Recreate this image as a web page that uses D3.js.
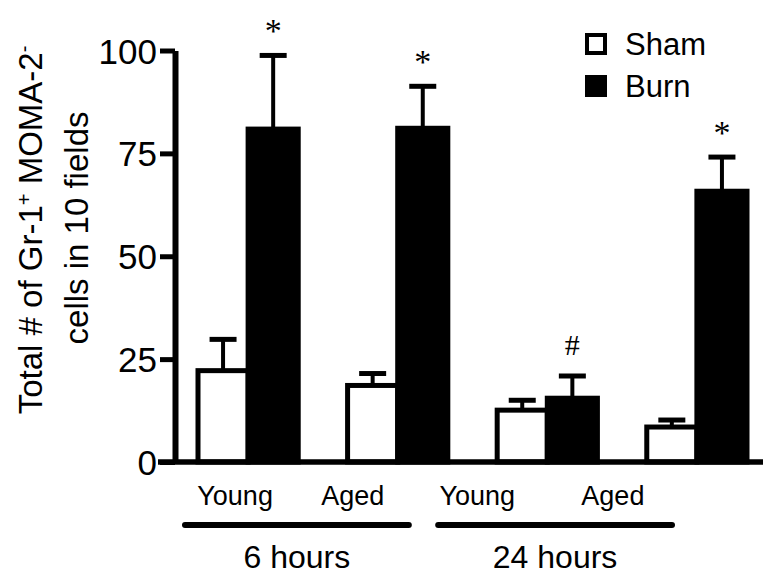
<!DOCTYPE html>
<html>
<head>
<meta charset="utf-8">
<script src="https://cdn.jsdelivr.net/npm/d3@7"></script>
<style>
  html, body { margin: 0; padding: 0; background: #fff; }
  svg { display: block; }
  text { font-family: "Liberation Sans", Arial, Helvetica, sans-serif; fill: #000; }
</style>
</head>
<body>
<div id="chart"></div>
<script>
// ---- data ----
const groups = ["6h Young", "6h Aged", "24h Young", "24h Aged"];
const groupAgeLabels = ["Young", "Aged", "Young", "Aged"];
const timeLabels = ["6 hours", "24 hours"];
const series = ["Sham", "Burn"];
const shamValues = [22.2, 18.6, 12.6, 8.5];
const shamErrors = [7.6, 2.9, 2.4, 1.7];
const burnValues = [80.9, 81.1, 15.5, 65.8];
const burnErrors = [17.9, 10.2, 5.4, 8.3];
const burnMarks = ["*", "*", "#", "*"];
const yTicks = [0, 25, 50, 75, 100];

// ---- layout ----
const W = 763, H = 578;
const svg = d3.select("#chart").append("svg").attr("width", W).attr("height", H);

const y = d3.scaleLinear().domain([0, 100]).range([462, 50.5]);
const x = d3.scaleBand().domain(groups).range([198, 747]).paddingInner(0.33).paddingOuter(0);
const xs = d3.scaleBand().domain(series).range([0, x.bandwidth()]).padding(0);

const rows = [];
groups.forEach((g, i) => {
  rows.push({group: g, series: "Sham", value: shamValues[i], err: shamErrors[i], mark: null});
  rows.push({group: g, series: "Burn", value: burnValues[i], err: burnErrors[i], mark: burnMarks[i]});
});

// bars
svg.append("g").selectAll("rect").data(rows).join("rect")
  .attr("x", d => x(d.group) + xs(d.series))
  .attr("y", d => y(d.value))
  .attr("width", xs.bandwidth())
  .attr("height", d => y(0) - y(d.value))
  .attr("fill", d => d.series === "Sham" ? "#fff" : "#000")
  .attr("stroke", "#000")
  .attr("stroke-width", 5);

// error bars
const eb = svg.append("g");
const cx = d => x(d.group) + xs(d.series) + xs.bandwidth() / 2;
eb.selectAll("line.v").data(rows).join("line").attr("class", "v")
  .attr("x1", cx).attr("x2", cx)
  .attr("y1", d => y(d.value)).attr("y2", d => y(d.value + d.err))
  .attr("stroke", "#000").attr("stroke-width", 4);
eb.selectAll("line.c").data(rows).join("line").attr("class", "c")
  .attr("x1", d => cx(d) - 13.5).attr("x2", d => cx(d) + 13.5)
  .attr("y1", d => y(d.value + d.err)).attr("y2", d => y(d.value + d.err))
  .attr("stroke", "#000").attr("stroke-width", 5);

// significance marks
svg.append("g").selectAll("text").data(rows.filter(d => d.mark)).join("text")
  .attr("x", cx)
  .attr("y", d => y(d.value + d.err) - (d.mark === "*" ? 13 : 21))
  .attr("text-anchor", "middle")
  .style("font-family", "'Liberation Serif', 'Times New Roman', serif")
  .style("font-size", d => d.mark === "*" ? "34px" : "30px")
  .text(d => d.mark);

// x axis line
svg.append("line").attr("x1", 158).attr("x2", W).attr("y1", y(0)).attr("y2", y(0))
  .attr("stroke", "#000").attr("stroke-width", 5.5);

// y axis
const yAxis = d3.axisLeft(y).tickValues(yTicks).tickSize(15).tickSizeOuter(0).tickPadding(3);
const ga = svg.append("g").attr("transform", "translate(175,0)").call(yAxis);
ga.select(".domain").attr("stroke", "#000").attr("stroke-width", 6);
ga.selectAll(".tick line").attr("stroke", "#000").attr("stroke-width", 5);
ga.selectAll(".tick text")
  .style("font-family", "'Liberation Sans', Arial, sans-serif")
  .style("font-size", "35px").attr("fill", "#000").attr("dy", "0.36em");

// x category labels
const labelOffsets = [-13, -45, -70, -84];
svg.append("g").selectAll("text").data(groups).join("text")
  .attr("x", (g, i) => x(g) + x.bandwidth() / 2 + labelOffsets[i])
  .attr("y", 505)
  .attr("text-anchor", "middle")
  .style("font-size", "27px")
  .text((g, i) => groupAgeLabels[i]);

// time group underlines and labels
const spans = [
  {label: timeLabels[0], from: groups[0], to: groups[1], l: -13, r: -39, tx: 292},
  {label: timeLabels[1], from: groups[2], to: groups[3], l: -59, r: -75, tx: 548}
];
spans.forEach(s => {
  const x1 = x(s.from) + s.l, x2 = x(s.to) + x.bandwidth() + s.r;
  svg.append("line").attr("x1", x1).attr("x2", x2).attr("y1", 525).attr("y2", 525)
    .attr("stroke", "#000").attr("stroke-width", 6).attr("stroke-linecap", "round");
  svg.append("text").attr("x", (x1 + x2) / 2).attr("y", 568)
    .attr("text-anchor", "middle").style("font-size", "32px").text(s.label);
});

// y title
const t1 = svg.append("text").attr("transform", "translate(42,230) rotate(-90)")
  .attr("text-anchor", "middle").style("font-size", "33px");
t1.append("tspan").text("Total # of Gr-1");
t1.append("tspan").attr("baseline-shift", "super").style("font-size", "20px").text("+");
t1.append("tspan").text(" MOMA-2");
t1.append("tspan").attr("baseline-shift", "super").style("font-size", "20px").text("-");
svg.append("text").attr("transform", "translate(88,228) rotate(-90)")
  .attr("text-anchor", "middle").style("font-size", "33px").text("cells in 10 fields");

// legend
const lg = svg.append("g").attr("transform", "translate(587,35)");
series.forEach((s, i) => {
  lg.append("rect").attr("x", 0).attr("y", i * 42).attr("width", 18).attr("height", 18)
    .attr("fill", s === "Sham" ? "#fff" : "#000").attr("stroke", "#000").attr("stroke-width", 4);
  lg.append("text").attr("x", 38).attr("y", i * 42 + 20).style("font-size", "31px").text(s);
});
</script>
</body>
</html>
